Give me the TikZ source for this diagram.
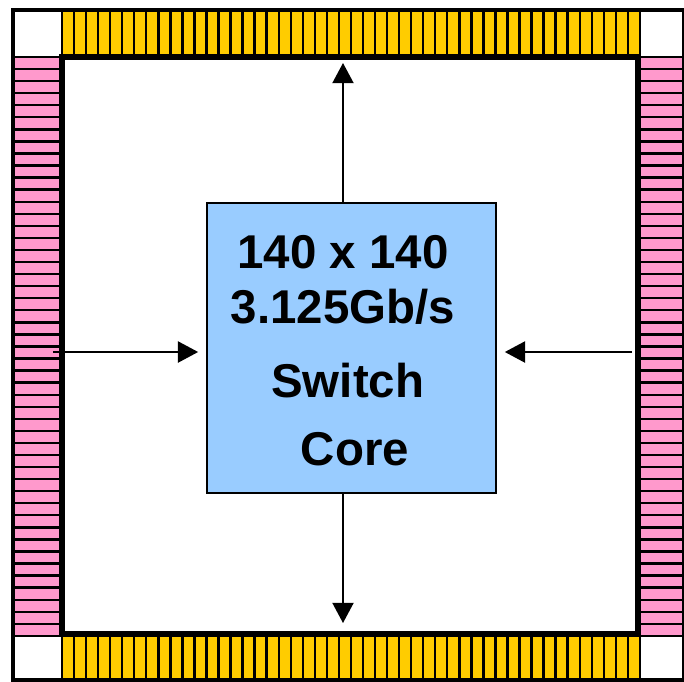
\documentclass[tikz,border=0pt]{standalone}
\usepackage{fontspec}
\setmainfont{Liberation Sans}
\usetikzlibrary{arrows.meta, positioning}
\definecolor{padyellow}{HTML}{FFCC00}
\definecolor{padpink}{HTML}{FF99CC}
\definecolor{coreblue}{HTML}{99CCFF}
\tikzset{
  padbar/.style={draw=black, line width=1.35pt, fill=#1},
  sigarrow/.style={-{Triangle[length=11.5pt,width=12pt]}, line width=1.1pt},
  corebox/.style={
    rectangle, draw=black, line width=1.1pt, fill=coreblue,
    minimum width=5.78cm, minimum height=5.8cm
  },
  coretext/.style={align=center, font=\fontsize{27}{30}\selectfont\bfseries},
}

\begin{document}
\begin{tikzpicture}[x=0.02cm, y=-0.02cm]
  \useasboundingbox (0,0) rectangle (684,681);

  % pad rows: yellow on top and bottom, pink on the sides
  \foreach \i in {0,...,47} {
    \draw[padbar=padyellow] ({62+12.04*\i},11) rectangle ({62+12.04*(\i+1)},57);
    \draw[padbar=padyellow] ({62+12.04*\i},634) rectangle ({62+12.04*(\i+1)},682);
    \draw[padbar=padpink] (13,{57+12.06*\i}) rectangle (62,{57+12.06*(\i+1)});
    \draw[padbar=padpink] (640,{57+12.06*\i}) rectangle (686,{57+12.06*(\i+1)});
  }

  % chip outline and core area
  \draw[line width=2.8pt] (13,10) rectangle (684,680);
  \draw[line width=3.4pt] (62,57) rectangle (638,634);

  \node[corebox] (core) at (351.5,348) {};
  \node[coretext] (corelabel) at (343,351)
    {140 x 140\\[1pt]3.125Gb/s\\[12pt]\hspace*{0.2em}Switch\\[9pt]\hspace*{0.5em}Core};

  \coordinate (topend) at (343,63);
  \coordinate (botend) at (343,623);
  \coordinate (leftin) at (53,352);
  \coordinate (rightin) at (632,352);

  \draw[sigarrow] (core.north -| topend) -- (topend);
  \draw[sigarrow] (core.south -| botend) -- (botend);
  \draw[sigarrow, shorten >=4.5pt] (leftin) -- (leftin -| core.west);
  \draw[sigarrow, shorten >=4.5pt] (rightin) -- (rightin -| core.east);
\end{tikzpicture}
\end{document}
